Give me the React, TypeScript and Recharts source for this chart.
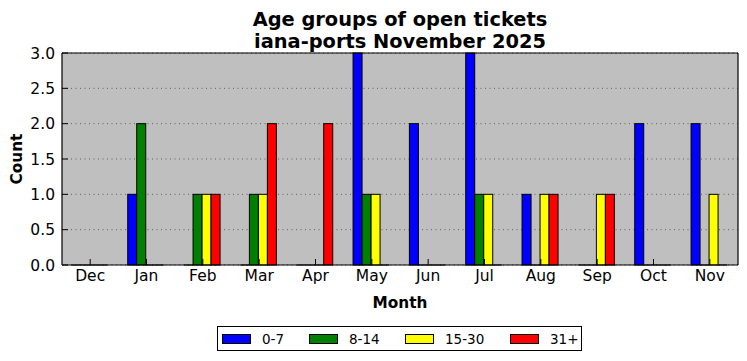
import React from 'react';
import { BarChart, Bar, XAxis, YAxis, CartesianGrid, Legend } from 'recharts';

const months = ['Dec', 'Jan', 'Feb', 'Mar', 'Apr', 'May', 'Jun', 'Jul', 'Aug', 'Sep', 'Oct', 'Nov'];
const age0to7 = [0, 1, 0, 0, 0, 3, 2, 3, 1, 0, 2, 2];
const age8to14 = [0, 2, 1, 1, 0, 1, 0, 1, 0, 0, 0, 0];
const age15to30 = [0, 0, 1, 1, 0, 1, 0, 1, 1, 1, 0, 1];
const age31plus = [0, 0, 1, 2, 2, 0, 0, 0, 1, 1, 0, 0];
const yTicks = [0, 0.5, 1, 1.5, 2, 2.5, 3];

const series = [
  { key: 'a', name: '0-7', color: '#0000ff', values: age0to7 },
  { key: 'b', name: '8-14', color: '#008000', values: age8to14 },
  { key: 'c', name: '15-30', color: '#ffff00', values: age15to30 },
  { key: 'd', name: '31+', color: '#ff0000', values: age31plus },
];

const data = months.map((m, i) => {
  const row: any = { month: m };
  series.forEach((s) => (row[s.key] = s.values[i]));
  return row;
});

const FONT = '"DejaVu Sans", sans-serif';

const BarShape = (props: any) => {
  const { x, y, width, height, fill } = props;
  if (x == null || y == null || !isFinite(x) || !isFinite(y)) return null;
  if (!height || height <= 0) {
    return <line x1={x} x2={x + width} y1={y} y2={y} stroke="#000" strokeWidth={1} />;
  }
  return <rect x={x} y={y} width={width} height={height} fill={fill} stroke="#000" strokeWidth={1} />;
};

const LegendContent = () => (
  <div
    style={{
      width: 363,
      height: 23,
      border: '1px solid #000',
      background: '#fff',
      display: 'flex',
      alignItems: 'center',
      fontFamily: FONT,
      fontSize: 13.5,
      boxSizing: 'content-box',
    }}
  >
    {series.map((s, i) => (
      <div key={s.key} style={{ display: 'flex', alignItems: 'center', position: 'absolute', left: [5, 92, 188, 293][i] }}>
        <div style={{ width: 27, height: 8, background: s.color, border: '1px solid #000' }} />
        <span style={{ marginLeft: 11 }}>{s.name}</span>
      </div>
    ))}
  </div>
);

export default function App() {
  return (
    <div style={{ position: 'absolute', left: 0, top: 0, width: 747, height: 361, background: '#fff' }}>
      <div
        style={{
          position: 'absolute',
          left: 0,
          width: 800,
          top: 9,
          textAlign: 'center',
          fontFamily: FONT,
          fontWeight: 'bold',
          fontSize: 19.4,
          lineHeight: '22px',
        }}
      >
        Age groups of open tickets
        <br />
        iana-ports November 2025
      </div>
      <div
        style={{
          position: 'absolute',
          left: 0,
          top: 294,
          width: 800,
          textAlign: 'center',
          fontFamily: FONT,
          fontWeight: 'bold',
          fontSize: 15.3,
        }}
      >
        Month
      </div>
      <div
        style={{
          position: 'absolute',
          left: 17,
          top: 159,
          transform: 'translate(-50%, -50%) rotate(-90deg)',
          fontFamily: FONT,
          fontWeight: 'bold',
          fontSize: 15.3,
          whiteSpace: 'nowrap',
        }}
      >
        Count
      </div>
      <div style={{ position: 'absolute', left: 0, top: 0 }}>
        <BarChart
          width={747}
          height={361}
          data={data}
          margin={{ top: 52, right: 8, bottom: 0, left: 0 }}
          barCategoryGap="16.67%"
          barGap={0}
        >
          <CartesianGrid
            xAxisId="b"
            yAxisId="l"
            horizontal={true}
            vertical={false}
            fill="#bfbfbf"
            fillOpacity={1}
            stroke="#000"
            strokeOpacity={0.5}
            strokeDasharray="1 3.5"
          />
          <XAxis
            xAxisId="b"
            dataKey="month"
            orientation="bottom"
            height={71}
            tickSize={-6}
            tickMargin={11}
            axisLine={{ stroke: '#000', strokeWidth: 1.2 }}
            tickLine={{ stroke: '#000' }}
            tick={{ fill: '#000', fontFamily: FONT, fontSize: 15.5 }}
            interval={0}
          />
          <XAxis
            xAxisId="t"
            dataKey="month"
            orientation="top"
            height={1}
            tickSize={-6}
            tick={false}
            axisLine={{ stroke: '#000', strokeWidth: 1.2 }}
            tickLine={{ stroke: '#000' }}
            interval={0}
          />
          <YAxis
            yAxisId="l"
            orientation="left"
            width={62}
            domain={[0, 3]}
            ticks={yTicks}
            tickFormatter={(v: number) => v.toFixed(1)}
            tickSize={-6}
            tickMargin={13}
            axisLine={{ stroke: '#000', strokeWidth: 1.2 }}
            tickLine={{ stroke: '#000' }}
            tick={{ fill: '#000', fontFamily: FONT, fontSize: 15.5 }}
            interval={0}
          />
          <YAxis
            yAxisId="r"
            orientation="right"
            width={1}
            domain={[0, 3]}
            allowDataOverflow
            ticks={yTicks}
            tickSize={-6}
            tick={false}
            axisLine={{ stroke: '#000', strokeWidth: 1.2 }}
            tickLine={{ stroke: '#000' }}
          />
          {series.map((s) => (
            <Bar
              key={s.key}
              dataKey={s.key}
              name={s.name}
              fill={s.color}
              xAxisId="b"
              yAxisId="l"
              isAnimationActive={false}
              shape={BarShape}
            />
          ))}
          <Bar
            dataKey="frame"
            xAxisId="t"
            yAxisId="r"
            legendType="none"
            fill="none"
            isAnimationActive={false}
          />
          <Legend
            content={LegendContent}
            wrapperStyle={{ position: 'absolute', left: 217, top: 326, width: 365, height: 25, bottom: 'auto' }}
          />
        </BarChart>
      </div>
    </div>
  );
}
